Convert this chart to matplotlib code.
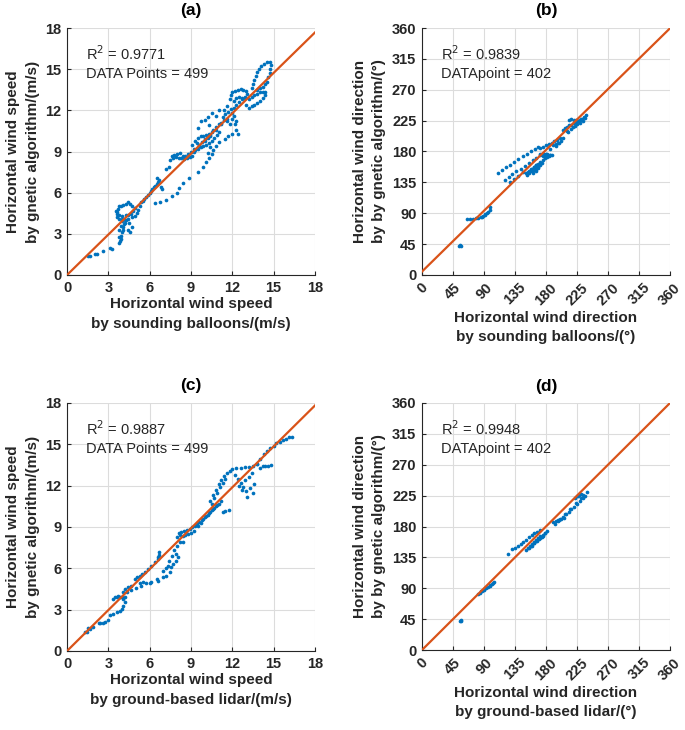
import matplotlib
matplotlib.use("Agg")
import matplotlib.pyplot as plt
import numpy as np

plt.rcParams['font.family'] = ['Liberation Sans', 'DejaVu Sans']

# ---------------- data ----------------
a_x = [1.5, 1.7, 2.0, 2.2, 2.6, 3.1, 3.3,
       3.8, 3.85, 3.9, 3.95, 4.0, 4.05, 4.1, 4.15, 4.2, 4.3, 3.75, 3.8, 3.9, 4.0, 4.4, 4.6, 4.7, 4.5,
       3.6, 3.7, 3.8, 3.95, 4.1, 4.3, 4.45, 4.6, 4.75, 4.9, 4.8, 4.65, 4.45, 4.25, 4.0, 3.8, 3.6, 3.55,
       3.6, 3.8, 4.0, 4.2, 4.45, 4.7, 4.9, 5.05, 5.15, 5.3, 5.4, 5.5,
       5.6, 5.75, 5.9, 6.0, 6.1, 6.2, 6.3, 6.4, 6.5, 6.6, 6.7, 6.5, 6.8, 6.9, 7.2, 7.4,
       6.4, 6.75, 7.2, 7.65, 8.0, 8.15, 8.4, 8.85, 9.5, 9.9, 10.1, 10.3, 10.5,
       7.5, 7.7, 7.9, 8.1, 8.3, 8.5, 8.7, 8.9, 9.1, 7.6, 7.8, 8.0, 8.2, 8.4, 8.6, 8.8, 9.0, 9.2,
       9.3, 9.5, 9.7, 9.9, 10.1, 10.3, 10.5, 10.7, 10.9, 11.0, 9.1, 9.3, 9.5, 9.7, 9.9, 10.1, 10.3, 10.5,
       9.4, 9.6, 9.8, 10.0, 10.2, 10.4, 10.6, 10.8, 11.0, 11.2, 11.4,
       10.2, 10.4, 10.6, 10.8, 11.0, 11.5, 12.0, 11.7,
       9.5, 9.7, 10.0, 10.2, 10.5, 10.3, 10.8, 11.0,
       11.3, 11.5, 11.7, 11.9, 12.1, 12.3, 12.5, 12.7, 12.9, 11.6, 11.8, 12.0, 12.2, 12.3, 12.4, 12.3, 12.1, 11.4, 11.6,
       11.8, 11.9, 12.0, 12.2, 12.4, 12.6, 12.8, 13.0, 13.1, 12.9, 12.7, 12.5, 12.3, 12.1,
       13.2, 13.4, 13.6, 13.8, 14.0, 14.2, 14.4, 14.4, 14.2, 14.0, 13.8, 13.6, 13.4, 13.2, 13.0,
       13.4, 13.5, 13.6, 13.7, 13.8, 13.95, 14.1, 14.3, 14.5, 14.7, 14.8, 14.75, 14.7, 14.6, 14.5, 14.4, 14.2, 14.0, 13.8,
       9.2, 9.6, 10.0, 10.4, 10.8, 11.2, 11.6, 12.0]
a_y = [1.4, 1.37, 1.5, 1.5, 1.75, 2.0, 1.9,
       2.3, 2.5, 2.6, 2.85, 3.1, 3.3, 3.5, 3.7, 3.8, 4.0, 2.8, 3.3, 3.6, 3.9, 3.3, 3.1, 3.5, 3.8,
       4.6, 4.8, 5.0, 5.05, 5.1, 5.2, 5.3, 5.2, 5.05, 4.9, 4.7, 4.45, 4.4, 4.35, 4.3, 4.35, 4.45, 4.7,
       4.2, 4.1, 4.05, 4.0, 4.1, 4.2, 4.3, 4.5, 4.75, 5.0, 5.3, 5.4,
       5.55, 5.7, 5.8, 6.0, 6.1, 6.25, 6.4, 6.5, 6.6, 6.75, 6.9, 7.05, 6.4, 6.3, 7.7, 7.85,
       5.25, 5.3, 5.5, 5.75, 6.0, 6.35, 6.7, 7.1, 7.5, 7.9, 8.2, 8.5, 8.8,
       8.4, 8.5, 8.6, 8.55, 8.5, 8.45, 8.5, 8.6, 8.7, 8.7, 8.75, 8.8, 8.9, 8.7, 8.65, 8.85, 9.0, 9.2,
       9.1, 9.2, 9.3, 9.4, 9.5, 9.6, 9.8, 10.0, 10.2, 10.4, 9.5, 9.8, 10.0, 10.1, 10.15, 10.2, 10.3, 10.4,
       9.6, 9.5, 9.7, 9.9, 10.0, 10.1, 10.6, 10.8, 11.0, 11.1, 11.3,
       8.9, 9.3, 9.1, 9.4, 9.7, 9.9, 10.3, 10.1,
       10.7, 11.2, 11.3, 11.5, 11.8, 10.9, 11.6, 12.0,
       11.5, 11.7, 11.9, 12.1, 12.2, 12.4, 12.6, 12.8, 12.9, 11.2, 11.0, 11.4, 11.0, 10.6, 10.3, 11.2, 11.6, 12.0, 12.3,
       12.8, 13.1, 13.3, 13.4, 13.5, 13.55, 13.5, 13.4, 13.2, 13.0, 12.9, 13.0, 12.9, 12.7,
       12.8, 12.95, 13.1, 13.2, 13.3, 13.35, 13.3, 13.1, 12.9, 12.7, 12.55, 12.4, 12.3, 12.2, 12.4,
       13.6, 13.9, 14.2, 14.5, 14.8, 15.0, 15.2, 15.4, 15.55, 15.5, 15.3, 15.0, 14.7, 14.4, 14.1, 13.9, 13.7, 13.6, 13.5,
       9.0, 9.4, 9.8, 10.2, 10.6, 11.0, 11.4, 11.8]

b_x = [53, 55, 56,
       66, 70, 74, 78, 82, 85, 88, 91, 94, 96, 98, 99, 92, 87,
       110, 116, 122, 128, 134, 140, 146, 152, 158, 164, 169,
       120, 126, 131, 137, 143, 149, 155, 161, 166, 171,
       128, 134, 140, 146,
       151, 154, 157, 160, 163, 166, 169, 172, 175, 178, 181, 184, 186, 156, 160, 164, 168, 158, 162, 166,
       153, 156, 159, 162, 165, 168, 171, 174, 161, 165, 169,
       171, 174, 177, 180, 183, 186, 188, 176, 179, 182,
       172, 176, 180, 184, 188, 192, 196, 200, 204, 190, 194, 198, 202, 186, 195, 199,
       205, 208, 211, 214, 217, 220, 223, 226, 229, 232, 235, 238, 214, 217, 220, 223, 226, 210, 228, 231,
       212, 216, 219, 222, 225, 229, 233, 236]
b_y = [42, 43, 42,
       82, 82, 82, 82.5, 83, 84, 85.5, 87.5, 90, 92, 95, 99, 88.5, 85,
       149, 153, 157, 161, 165, 169, 173, 177, 180, 184, 187,
       139, 143, 147, 151, 155, 159, 163, 167, 171, 175,
       135, 140, 145, 150,
       148, 150, 152, 155, 157, 160, 162, 165, 167, 170, 172, 174, 175, 151, 153, 156, 159, 155, 158, 161,
       146, 149, 151, 153, 155, 158, 160, 163, 149, 152, 156,
       177, 177, 176.5, 176, 175.5, 175, 175, 174, 175, 176,
       185, 187, 189, 191, 193, 195, 197, 199, 200, 189, 191, 193, 196, 184, 188, 192,
       212, 214, 216, 218, 219, 221, 223, 224, 226, 228, 230, 233, 226, 227, 226, 226, 225, 210, 225, 227,
       209, 213, 215, 217, 220, 222, 225, 229]

c_x = [1.3, 1.44, 1.55, 1.68, 1.92, 2.3, 2.4, 2.64, 2.76, 3.0,
       3.12, 3.36, 3.6, 3.84, 3.96, 4.08, 4.2, 4.2,
       3.36, 3.48, 3.6, 3.72, 3.84, 3.96, 4.08,
       4.08, 4.2, 4.44, 4.68, 5.28, 5.52, 5.76, 6.0, 6.12,
       4.32, 4.68, 5.04, 5.4, 4.92, 5.1, 5.28, 5.46, 5.64, 5.88, 6.12, 6.36, 6.6, 6.6, 6.65, 6.68,
       6.5, 6.6, 6.96, 7.2, 7.44, 7.56, 7.68, 7.92, 8.04, 7.92, 7.32, 7.0, 7.2, 7.4, 7.6, 7.8, 8.0, 8.2, 8.45,
       8.0, 8.2, 8.4, 8.6, 8.8, 9.0, 9.2, 8.1, 8.3, 8.5, 8.7, 8.9, 9.1, 9.3,
       9.4, 9.6, 9.8, 10.0, 10.2, 10.4, 10.6, 10.8, 11.0, 11.2, 9.5, 9.7, 9.9, 10.1, 10.3, 10.5, 10.7, 10.9,
       11.3, 11.5, 11.75,
       10.4, 10.6, 10.8, 11.0, 11.2, 11.4, 11.6, 11.8, 12.0, 10.5, 10.7, 10.9, 11.1, 11.3, 11.5,
       12.3, 12.6, 12.9, 13.2, 13.5, 13.8,
       12.2, 12.4, 12.6, 12.8, 13.0, 13.1, 13.3, 13.5, 13.6, 12.5, 12.7, 12.9, 13.2, 13.4,
       14.0, 14.2, 14.4, 14.6, 14.8,
       13.8, 14.0, 14.3, 14.5, 14.75, 15.0, 15.2, 15.45, 15.7, 15.9, 16.1, 16.3]
c_y = [1.4, 1.4, 1.65, 1.6, 1.77, 2.0, 2.0, 2.06, 2.13, 2.23,
       2.6, 2.7, 2.83, 2.88, 3.07, 3.3, 3.55, 3.9,
       3.8, 3.9, 3.95, 3.96, 3.93, 3.9, 3.8,
       4.27, 4.5, 4.63, 4.7, 4.94, 5.0, 4.94, 4.92, 5.04,
       4.27, 4.4, 4.56, 4.75, 5.23, 5.35, 5.47, 5.6, 5.71, 5.95, 6.19, 6.43, 6.67, 6.8, 7.0, 7.15,
       5.2, 5.1, 5.35, 5.47, 5.71, 6.07, 6.31, 6.55, 6.79, 7.03, 6.19, 5.8, 6.0, 6.5, 6.9, 7.3, 7.6, 7.9, 7.9,
       8.3, 8.4, 8.35, 8.45, 8.5, 8.6, 8.7, 8.6, 8.65, 8.7, 8.8, 8.85, 9.0, 9.1,
       9.2, 9.35, 9.5, 9.7, 9.9, 10.1, 10.3, 10.5, 10.7, 10.9, 9.1, 9.3, 9.6, 9.8, 10.0, 10.2, 10.4, 10.6,
       10.1, 10.15, 10.2,
       10.9, 11.3, 11.7, 12.1, 12.4, 12.7, 12.9, 13.1, 13.2, 10.7, 11.1, 11.5, 11.9, 12.2, 12.5,
       13.25, 13.3, 13.35, 13.35, 13.4, 13.55,
       12.8, 12.5, 12.2, 11.9, 11.6, 11.2, 11.8, 11.5, 12.1, 12.0, 11.7, 12.4, 12.6, 12.9,
       13.3, 13.4, 13.45, 13.4, 13.5,
       13.6, 13.9, 14.3, 14.5, 14.75, 14.9, 15.1, 15.2, 15.35, 15.4, 15.5, 15.5]

d_x = [55, 56, 57,
       81, 84, 87, 90, 93, 96, 99, 102, 105, 86, 92, 98, 103,
       125, 131, 135, 139, 143, 147, 151, 155, 159, 163, 167, 171,
       151, 154, 157, 160, 163, 166, 169, 172, 175, 178, 181, 158, 162, 166, 170, 174,
       155, 159, 163, 167, 171, 175, 179,
       190, 194, 198, 202, 206,
       193, 197, 201, 205, 209, 213, 217, 221, 225, 229, 233, 237, 239, 225, 228, 231, 234, 222, 226, 230,
       199, 207, 215, 223, 231]
d_y = [42, 43, 42,
       81.5, 83.5, 85.5, 87.5, 90, 92, 94, 96, 99, 86, 90, 95, 97,
       139.5, 146.7, 149, 152, 155, 158, 161, 164, 167, 170, 172.5, 175,
       146, 148, 151, 154, 157, 160, 163, 166, 168, 171, 174, 152, 156, 159, 162, 164,
       149, 152, 156, 159, 163, 166, 170,
       186, 188, 189, 191, 193,
       184, 188, 191, 194, 198, 201, 205, 209, 213, 217, 221, 225, 230, 224, 226, 227, 226, 222, 224, 228,
       190, 198, 206, 214, 222]

# fitted lines (slope, intercept) and annotations
fits = [(0.982, 0.0), (0.985, 5.0), (0.99, 0.0), (1.0, 0.0)]
r2_texts = ['0.9771', '0.9839', '0.9887', '0.9948']
count_texts = ['DATA Points = 499', 'DATApoint = 402', 'DATA Points = 499', 'DATApoint = 402']
titles = ['(a)', '(b)', '(c)', '(d)']
xlabels = ['Horizontal wind speed\nby sounding balloons/(m/s)',
           'Horizontal wind direction\nby sounding balloons/(°)',
           'Horizontal wind speed\nby ground-based lidar/(m/s)',
           'Horizontal wind direction\nby ground-based lidar/(°)']
ylabels = ['Horizontal wind speed\nby gnetic algorithm/(m/s)',
           'Horizontal wind direction\nby by gnetic algorithm/(°)',
           'Horizontal wind speed\nby gnetic algorithm/(m/s)',
           'Horizontal wind direction\nby by gnetic algorithm/(°)']
speed_ticks = [0, 3, 6, 9, 12, 15, 18]
dir_ticks = [0, 45, 90, 135, 180, 225, 270, 315, 360]

# ---------------- figure ----------------
W, H = 685, 730
fig = plt.figure(figsize=(W / 100, H / 100), dpi=100)

def box(x0, y0, x1, y1):
    return [x0 / W, 1 - y1 / H, (x1 - x0) / W, (y1 - y0) / H]

rects = [box(67, 28, 315, 275), box(422, 28, 670, 275),
         box(67, 403, 315, 651), box(422, 403, 670, 650)]
datas = [(a_x, a_y), (b_x, b_y), (c_x, c_y), (d_x, d_y)]
blue = '#0072BD'
orange = '#D95319'

for i in range(4):
    ax = fig.add_axes(rects[i])
    is_dir = i in (1, 3)
    ticks = dir_ticks if is_dir else speed_ticks
    lim = ticks[-1]
    xs, ys = datas[i]
    ax.scatter(xs, ys, s=7, color=blue, linewidths=0, zorder=3)
    k, b0 = fits[i]
    lx = np.array([0, lim])
    ax.plot(lx, k * lx + b0, color=orange, lw=1.6, zorder=4)
    ax.set_xlim(0, lim)
    ax.set_ylim(0, lim)
    ax.set_xticks(ticks)
    ax.set_yticks(ticks)
    ax.grid(True, color='#DCDCDC', lw=0.8)
    ax.set_axisbelow(True)
    for sp in ['top', 'right']:
        ax.spines[sp].set_visible(False)
    for sp in ['left', 'bottom']:
        ax.spines[sp].set_color('#262626')
        ax.spines[sp].set_linewidth(0.8)
    ax.tick_params(direction='in', length=3, width=0.8, colors='#262626',
                   labelsize=10.5, pad=4)
    for lab in ax.get_xticklabels() + ax.get_yticklabels():
        lab.set_fontweight('bold')
        lab.set_color('#262626')
    if is_dir:
        for lab in ax.get_xticklabels():
            lab.set_rotation(45)
            lab.set_ha('center')
            lab.set_va('top')
    ax.set_xlabel(xlabels[i], fontsize=11, fontweight='bold', color='#262626',
                  linespacing=1.5, labelpad=2)
    ax.set_ylabel(ylabels[i], fontsize=11, fontweight='bold', color='#262626',
                  linespacing=1.5, labelpad=4)
    ax.set_title(titles[i], fontsize=12.5, fontweight='bold', pad=9)
    ax.text(0.075, 0.895, r'R$^2$ = ' + r2_texts[i], transform=ax.transAxes,
            fontsize=10.5, color='#262626', va='center', ha='left')
    ax.text(0.075, 0.815, count_texts[i], transform=ax.transAxes,
            fontsize=10.5, color='#262626', va='center', ha='left')

fig.savefig('out.png', dpi=100, facecolor='white')
